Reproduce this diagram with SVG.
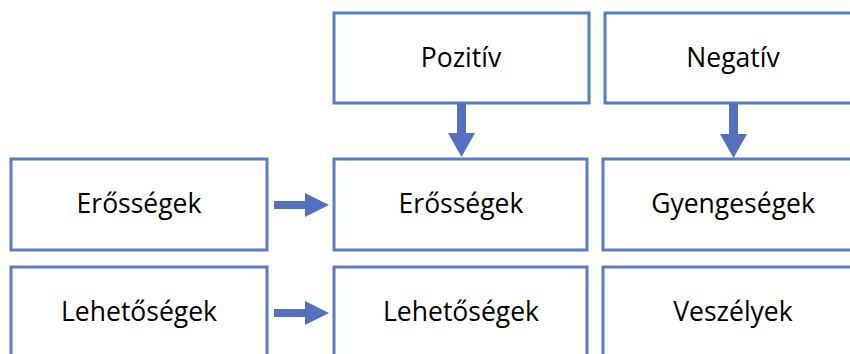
<svg xmlns="http://www.w3.org/2000/svg" width="850" height="354" viewBox="0 0 850 354">
<style>
.box{fill:#fff;stroke:#5B7BC3;stroke-width:3}
.t{font-family:"Open Sans","Liberation Sans",sans-serif;font-size:26.5px;fill:#000;text-anchor:middle}
.arr{fill:#5470BE}
</style>
<rect width="850" height="354" fill="#fff"/>
<g id="pozitiv"><rect class="box" x="334" y="13" width="255" height="90"/><text class="t" x="461" y="67">Pozitív</text></g>
<g id="negativ"><rect class="box" x="605" y="13" width="260" height="90"/><text class="t" x="733" y="67">Negatív</text></g>
<g id="erossegek-left"><rect class="box" x="11" y="159" width="256" height="91"/><text class="t" x="139" y="213">Erősségek</text></g>
<g id="erossegek"><rect class="box" x="334" y="159" width="253" height="91"/><text class="t" x="461" y="213">Erősségek</text></g>
<g id="gyengesegek"><rect class="box" x="603" y="159" width="262" height="91"/><text class="t" x="733" y="213">Gyengeségek</text></g>
<g id="lehetosegek-left"><rect class="box" x="11" y="267" width="256" height="100"/><text class="t" x="139" y="321">Lehetőségek</text></g>
<g id="lehetosegek"><rect class="box" x="334" y="267" width="253" height="100"/><text class="t" x="461" y="321">Lehetőségek</text></g>
<g id="veszelyek"><rect class="box" x="603" y="267" width="262" height="100"/><text class="t" x="733" y="321">Veszélyek</text></g>
<g id="connectors">
<polygon class="arr" points="457,104 466,104 466,133 475,133 461.5,157 448,133 457,133"/>
<polygon class="arr" points="729,104 738,104 738,134 747,134 733.5,158 720,134 729,134"/>
<polygon class="arr" points="274,201 305,201 305,193 329,205 305,217 305,209 274,209"/>
<polygon class="arr" points="274,309 305,309 305,301 329,313 305,325 305,317 274,317"/>
</g>
</svg>
